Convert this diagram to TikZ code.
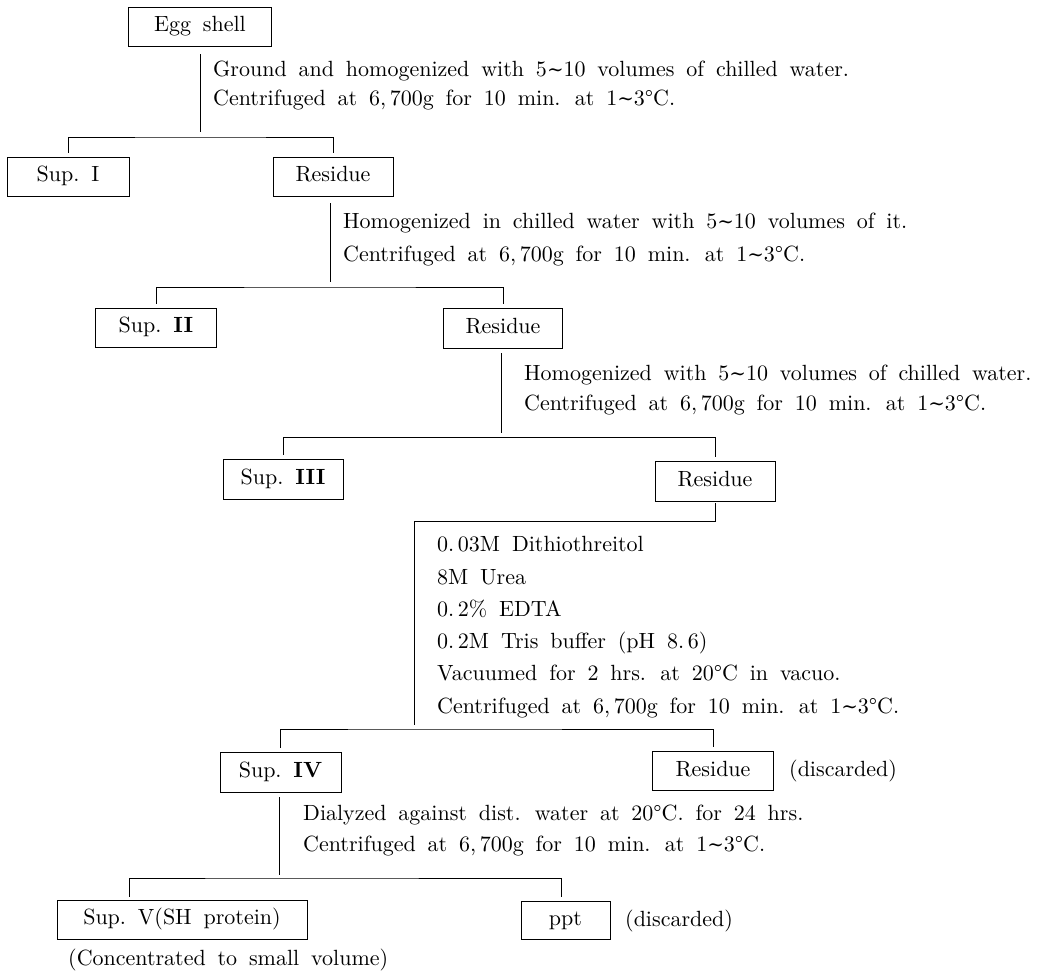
\documentclass[tikz,border=0pt]{standalone}
\usepackage{fontspec}
\setmainfont{lmroman10-regular.otf}[BoldFont=lmroman10-bold.otf, ItalicFont=lmroman10-italic.otf]
\newfontfamily\tildefont{DejaVu Serif}[Scale=0.9]
\newcommand{\flowfont}{\fontsize{22}{26}\selectfont\spaceskip=0.54em plus 0.1em minus 0.05em\relax}
\newcommand{\rng}[2]{#1{\tildefont ∼}#2}
\tikzset{
  every node/.style={font=\flowfont},
  box/.style={draw, line width=0.8pt, inner sep=0pt, minimum height=39pt, text height=15pt, text depth=5pt},
  lbl/.style={anchor=base west, inner sep=0pt},
  conn/.style={line width=0.9pt},
}
\begin{document}
\begin{tikzpicture}[x=1pt, y=-1pt]
\useasboundingbox (0,0) rectangle (1037,971);

% boxes
\node[box, minimum width=143pt] (egg) at (200,26.5) {Egg shell};
\node[box, minimum width=122pt] (sup1) at (68,176.5) {Sup.\ I};
\node[box, minimum width=120pt] (res1) at (333,176.5) {Residue};
\node[box, minimum width=121pt] (sup2) at (156,327.5) {Sup.\ \textbf{II}};
\node[box, minimum width=119pt, minimum height=40pt] (res2) at (503,328) {Residue};
\node[box, minimum width=120pt, minimum height=40pt] (sup3) at (283,479) {Sup.\ \textbf{III}};
\node[box, minimum width=120pt, minimum height=40pt] (res3) at (715,481) {Residue};
\node[box, minimum width=121pt, minimum height=40pt] (sup4) at (280.5,772) {Sup.\ \textbf{IV}};
\node[box, minimum width=121pt] (res4) at (713,771) {Residue};
\node[box, minimum width=250pt] (sup5) at (182,919.5) {Sup.\ V(SH protein)};
\node[box, minimum width=89pt, minimum height=38pt] (ppt) at (565.5,920) {ppt};

% side notes
\node[lbl] (disc1) at (789,776) {(discarded)};
\node[lbl] (disc2) at (625,926) {(discarded)};
\node[lbl] (conc) at (68,965) {(Concentrated to small volume)};

% step texts
\node[lbl] (t1a) at (213,77) {Ground and homogenized with \rng{5}{10} volumes of chilled water.};
\node[lbl] (t1b) at (213,106) {Centrifuged at 6,\,700g for 10 min. at \rng{1}{3}°C.};
\node[lbl] (t2a) at (343,229) {Homogenized in chilled water with \rng{5}{10} volumes of it.};
\node[lbl] (t2b) at (343,261) {Centrifuged at 6,\,700g for 10 min. at \rng{1}{3}°C.};
\node[lbl] (t3a) at (524,380) {Homogenized with \rng{5}{10} volumes of chilled water.};
\node[lbl] (t3b) at (524,410) {Centrifuged at 6,\,700g for 10 min. at \rng{1}{3}°C.};
\node[lbl] (t4a) at (437,551) {0.\,03M Dithiothreitol};
\node[lbl] (t4b) at (437,584) {8M Urea};
\node[lbl] (t4c) at (437,616) {0.\,2\% EDTA};
\node[lbl] (t4d) at (437,648) {0.\,2M Tris buffer (pH 8.\,6)};
\node[lbl] (t4e) at (437,680) {Vacuumed for 2 hrs. at 20°C in vacuo.};
\node[lbl] (t4f) at (437,713) {Centrifuged at 6,\,700g for 10 min. at \rng{1}{3}°C.};
\node[lbl] (t5a) at (303,820) {Dialyzed against dist. water at 20°C. for 24 hrs.};
\node[lbl] (t5b) at (303,851) {Centrifuged at 6,\,700g for 10 min. at \rng{1}{3}°C.};

% junction coordinates
\coordinate (j1) at (200,132);
\coordinate (h1) at (200,137);
\coordinate (j2) at (330,282);
\coordinate (h2) at (330,287);
\coordinate (j3) at (501,433);
\coordinate (h3) at (501,437.5);
\coordinate (c4) at (414,521);
\coordinate (j4) at (414,725);
\coordinate (h4) at (414,729);
\coordinate (j5) at (279,875);
\coordinate (h5) at (279,878);

% stage 1
\draw[conn] (egg.south) ++(0,8) -- (j1);
\draw[conn] ([yshift=4pt]sup1.north) |- (h1) -| ([yshift=4pt]res1.north);
% stage 2
\draw[conn] (res1.south -| j2) ++(0,7) -- (j2);
\draw[conn] ([yshift=4pt]sup2.north) |- (h2) -| ([yshift=4pt]res2.north);
% stage 3
\draw[conn] (res2.south -| j3) ++(0,5) -- (j3);
\draw[conn] ([yshift=4pt]sup3.north) |- (h3) -| ([yshift=4pt]res3.north);
% stage 4
\draw[conn] ([yshift=-2pt]res3.south) |- (c4) -- (j4);
\draw[conn] ([yshift=4pt]sup4.north) |- (h4) -| ([yshift=4pt]res4.north);
% stage 5
\draw[conn] (sup4.south -| j5) ++(0,5) -- (j5);
\draw[conn] ([xshift=-53pt,yshift=3pt]sup5.north) |- (h5) -| ([xshift=-4pt,yshift=4pt]ppt.north);
\end{tikzpicture}
\end{document}
